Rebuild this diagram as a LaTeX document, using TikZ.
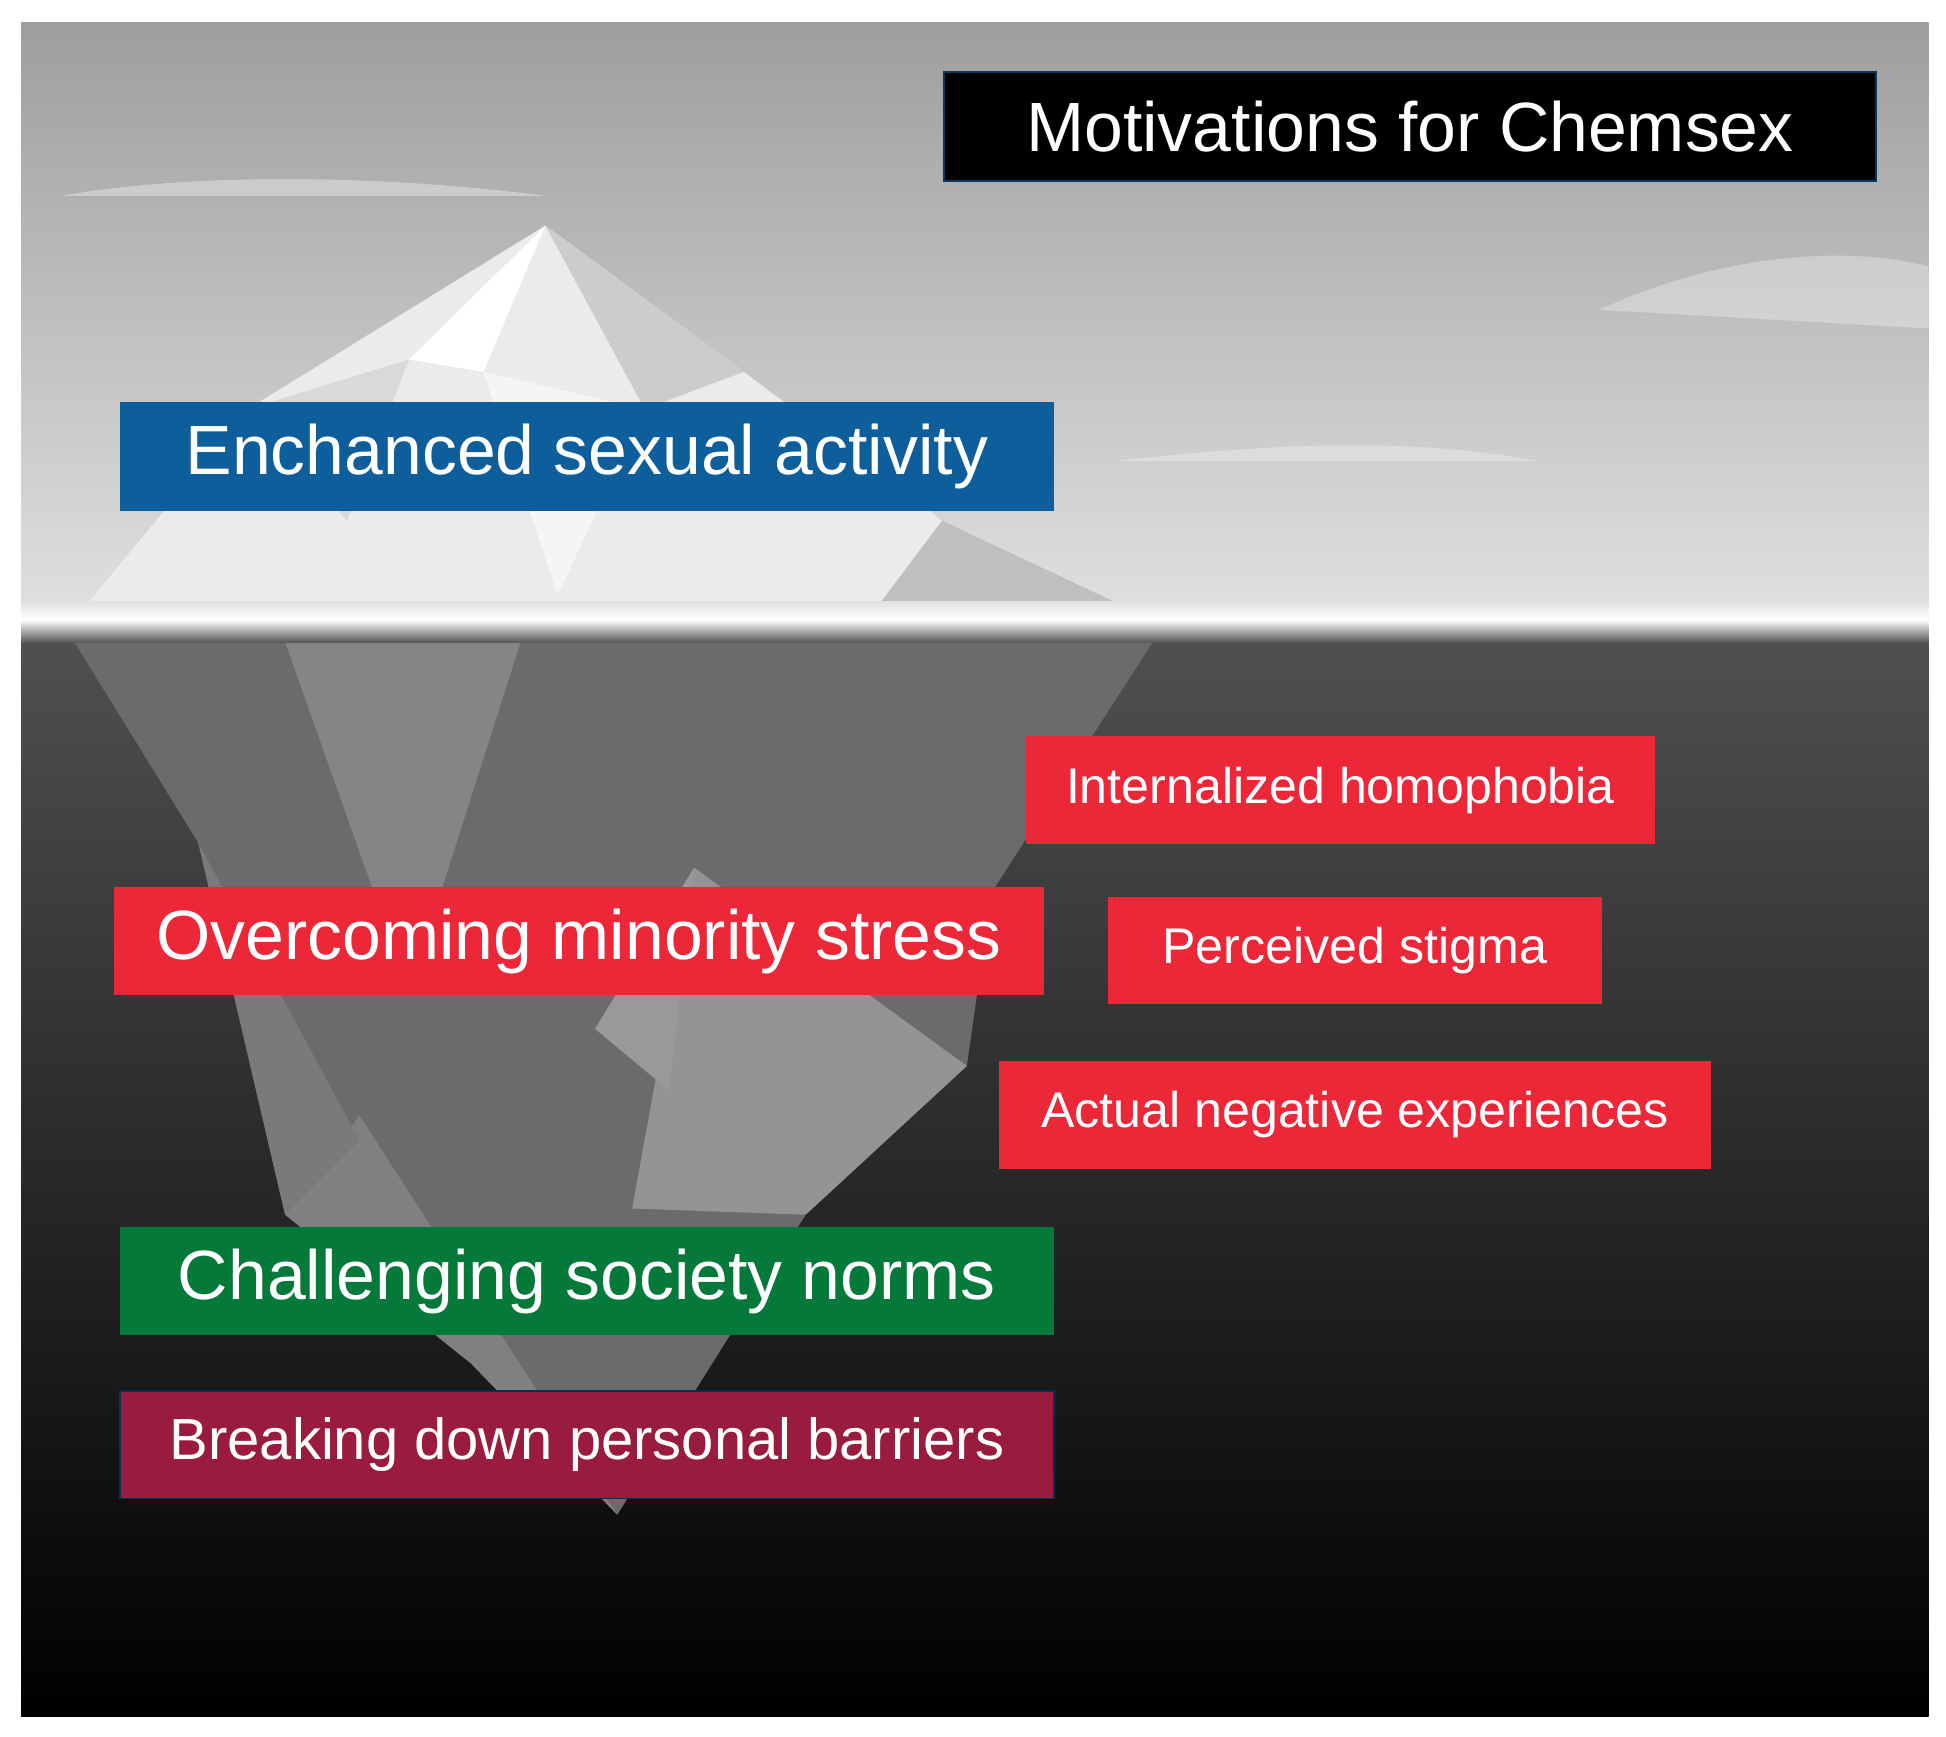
\documentclass[tikz,border=0pt]{standalone}
\usepackage{fontspec}
\setmainfont{Liberation Sans}
\begin{document}
\begin{tikzpicture}[x=0.01cm,y=-0.01cm,
  lbl/.style={anchor=center,text=white,inner sep=0pt},
  big/.style={font=\fontsize{16}{19}\selectfont},
  mid/.style={font=\fontsize{11.5}{14}\selectfont}]
\definecolor{rd}{HTML}{EC2738}
\definecolor{bl}{HTML}{0F5E9C}
\definecolor{gr}{HTML}{05793A}
\definecolor{mr}{HTML}{9A1B40}
\useasboundingbox (0,0) rectangle (1570,1401);
\fill[white] (0,0) rectangle (1570,1401);
% sky
\shade[top color=black!38,bottom color=black!12] (17,18) rectangle (1556,500);
% clouds
\fill[white,opacity=0.35] (50,158) .. controls (150,140) and (300,140) .. (440,158) -- cycle;
\fill[white,opacity=0.3] (1290,250) .. controls (1400,200) and (1500,200) .. (1556,215) -- (1556,265) -- cycle;
\fill[white,opacity=0.3] (900,372) .. controls (1050,355) and (1150,355) .. (1240,372) -- cycle;
% water
\shade[top color=black!68,bottom color=black] (17,500) rectangle (1556,1385);
% iceberg above water
\fill[black!8] (60,500) -- (200,330) -- (440,182) -- (600,300) -- (760,420) -- (930,500) -- cycle;
\fill[white] (330,290) -- (440,182) -- (390,300) -- cycle;
\fill[black!20] (440,182) -- (600,300) -- (520,330) -- cycle;
\fill[black!15] (200,330) -- (330,290) -- (280,420) -- cycle;
\fill[black!25] (760,420) -- (930,500) -- (700,500) -- cycle;
\fill[black!4] (390,300) -- (520,330) -- (450,480) -- cycle;
% iceberg under water
\fill[black!58] (60,518) -- (930,518) -- (800,720) -- (780,860) -- (650,980) -- (498,1222) -- (380,1100) -- (230,980) -- (160,680) -- cycle;
\fill[black!48] (230,518) -- (420,518) -- (330,800) -- cycle;
\fill[black!42] (560,700) -- (780,860) -- (650,980) -- (510,975) -- cycle;
\fill[black!50] (230,980) -- (290,900) -- (498,1222) -- (380,1100) -- cycle;
\fill[black!40] (480,830) -- (560,700) -- (540,880) -- cycle;
\fill[black!52] (160,680) -- (290,920) -- (230,980) -- cycle;
% horizon glow
\shade[top color=black!12,bottom color=white] (17,485) rectangle (1556,500);
\shade[top color=white,bottom color=black!65] (17,500) rectangle (1556,518);
% boxes
\node[fill=black,draw=bl!60!black,minimum width=7.51cm,minimum height=0.88cm,lbl,big] (t) at (1137.5,102) {Motivations for Chemsex};
\node[fill=bl,minimum width=7.53cm,minimum height=0.88cm,lbl,big] (e) at (473.5,368) {Enchanced sexual activity};
\node[fill=rd,minimum width=7.50cm,minimum height=0.87cm,lbl,big] (o) at (467,759.5) {Overcoming minority stress};
\node[fill=gr,minimum width=7.53cm,minimum height=0.87cm,lbl,big] (c) at (473.5,1033.5) {Challenging society norms};
\node[fill=mr,draw=bl!50!black,minimum width=7.53cm,minimum height=0.87cm,lbl,font=\fontsize{13.3}{16}\selectfont] (b) at (473.5,1165.5) {Breaking down personal barriers};
\node[fill=rd,minimum width=5.07cm,minimum height=0.87cm,lbl,mid] (i) at (1081.5,637.5) {Internalized homophobia};
\node[fill=rd,minimum width=3.98cm,minimum height=0.86cm,lbl,mid] (p) at (1093,767) {Perceived stigma};
\node[fill=rd,minimum width=5.74cm,minimum height=0.87cm,lbl,mid] (a) at (1093,899.5) {Actual negative experiences};
\end{tikzpicture}
\end{document}
